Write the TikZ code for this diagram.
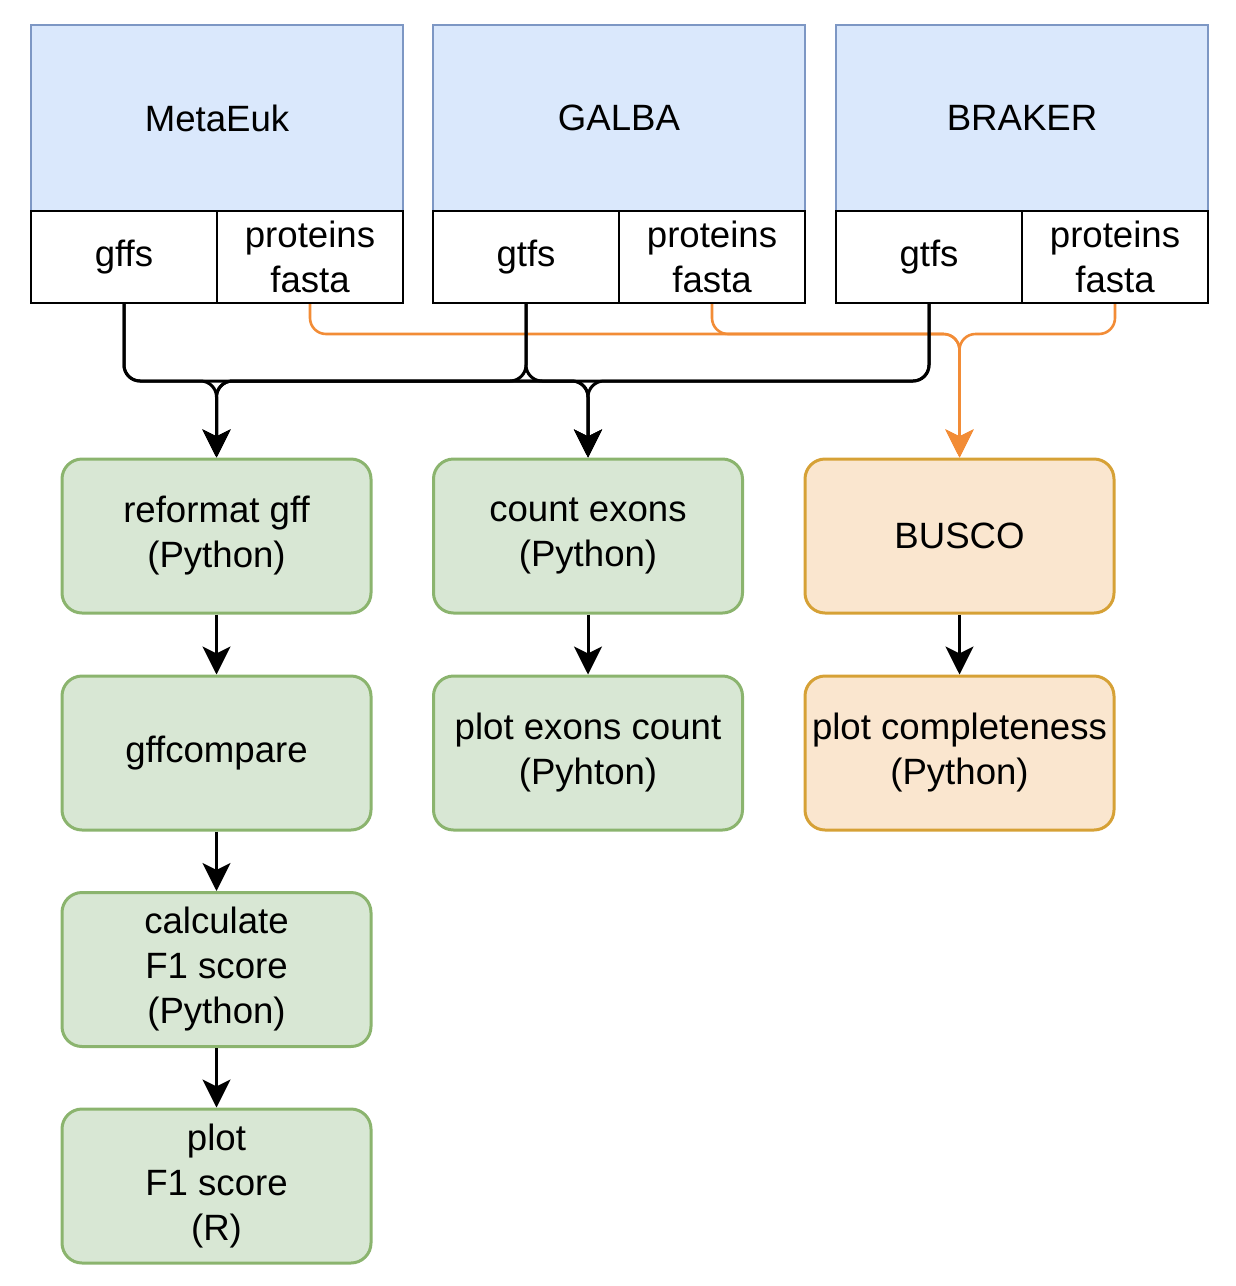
\documentclass[tikz,border=0pt]{standalone}
\usepackage{fontspec}
\setmainfont{Liberation Sans}
\usetikzlibrary{arrows.meta}

\definecolor{toolfill}{HTML}{DAE8FC}
\definecolor{toolline}{HTML}{7D97C4}
\definecolor{stepfill}{HTML}{D8E7D4}
\definecolor{stepline}{HTML}{8BB46E}
\definecolor{buscofill}{HTML}{FAE6CF}
\definecolor{buscoline}{HTML}{D6A136}
\definecolor{protline}{HTML}{F28C36}

\begin{document}
\begin{tikzpicture}[
    x=0.5pt, y=-0.5pt,
    every node/.style={font=\fontsize{18.3}{22.5}\selectfont, align=center, inner sep=0pt},
    toolbox/.style={draw=toolline, fill=toolfill, line width=1.1pt, minimum width=186pt, minimum height=93pt},
    outcell/.style={draw=black, fill=white, line width=1.2pt, minimum width=93pt, minimum height=46pt},
    stepbox/.style={draw=stepline, fill=stepfill, line width=1.5pt, rounded corners=10pt, minimum width=154.5pt, minimum height=77pt},
    buscobox/.style={stepbox, draw=buscoline, fill=buscofill},
    flow/.style={line width=1.5pt, rounded corners=8pt, -{Stealth[length=14pt, width=14pt, inset=3.5pt]}},
    protflow/.style={flow, draw=protline, line width=1.3pt, -{Stealth[length=14pt, width=14pt, inset=3.5pt, protline]}}
]
\useasboundingbox (0,0) rectangle (1236,1286);

% gene predictors
\node[toolbox] (metaeuk) at (217,118) {MetaEuk};
\node[toolbox] (galba) at (619,118) {GALBA};
\node[toolbox] (braker) at (1022,118) {BRAKER};

\node[outcell] (gffA) at (124,257) {gffs};
\node[outcell] (protA) at (310,257) {proteins\\fasta};
\node[outcell] (gffB) at (526,257) {gtfs};
\node[outcell] (protB) at (712,257) {proteins\\fasta};
\node[outcell] (gffC) at (929,257) {gtfs};
\node[outcell] (protC) at (1115,257) {proteins\\fasta};

% analysis steps
\node[stepbox] (reformat) at (216.5,536) {reformat gff\\(Python)};
\node[stepbox] (gffcmp) at (216.5,753) {gffcompare};
\node[stepbox] (fscore) at (216.5,969.5) {calculate\\F1 score\\(Python)};
\node[stepbox] (fplot) at (216.5,1186) {plot\\F1 score\\(R)};

\node[stepbox] (exons) at (588,536) {count exons\\(Python)};
\node[stepbox] (exonplot) at (588,753) {plot exons count\\(Pyhton)};

\node[buscobox] (busco) at (959.5,536) {BUSCO};
\node[buscobox] (buscoplot) at (959.5,753) {plot completeness\\(Python)};

\coordinate (kbus) at (0,381);
\coordinate (obus) at (0,334);

% proteins to BUSCO
\draw[protflow] (protA.south) |- (obus -| busco.north) -- (busco.north);
\draw[protflow] (protB.south) |- (obus -| busco.north) -- (busco.north);
\draw[protflow] (protC.south) |- (obus -| busco.north) -- (busco.north);

% annotations to the python steps
\foreach \src in {gffA, gffB, gffC} {
    \draw[flow] (\src.south) |- (kbus -| reformat.north) -- (reformat.north);
    \draw[flow] (\src.south) |- (kbus -| exons.north) -- (exons.north);
}

\draw[flow] (reformat) -- (gffcmp);
\draw[flow] (gffcmp) -- (fscore);
\draw[flow] (fscore) -- (fplot);
\draw[flow] (exons) -- (exonplot);
\draw[flow] (busco) -- (buscoplot);

\end{tikzpicture}
\end{document}
